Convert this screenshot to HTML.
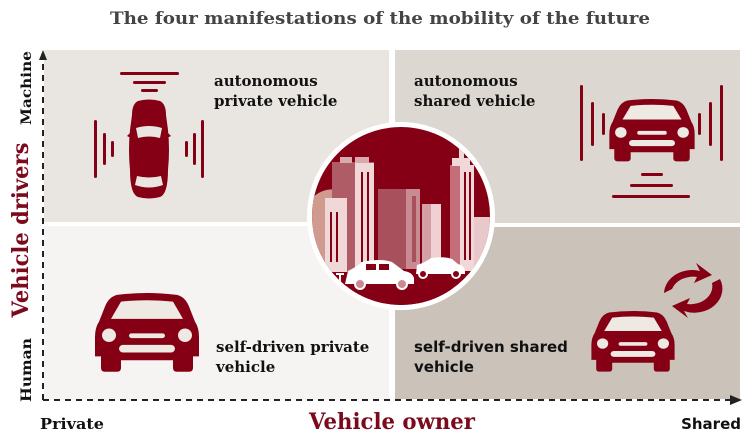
<!DOCTYPE html>
<html><head><meta charset="utf-8"><style>
html,body{margin:0;padding:0;background:#fff;width:752px;height:440px;overflow:hidden}
svg{display:block}
.s{font-family:"DejaVu Serif","Liberation Serif",serif;font-weight:bold}
.a{font-family:"DejaVu Sans","Liberation Sans",sans-serif}
</style></head><body>
<svg width="752" height="440" viewBox="0 0 752 440" xmlns="http://www.w3.org/2000/svg">
<defs>
<g id="front">
<path d="M20,2 Q50,-2 80,2 Q88,4 92,14 L98,30 Q102,36 102,46 L102,66 L96,66 L96,78 Q96,82 92,82 L80,82 Q76,82 76,78 L76,70 L24,70 L24,78 Q24,82 20,82 L8,82 Q4,82 4,78 L4,66 L-2,66 L-2,46 Q-2,36 2,30 L8,14 Q12,4 20,2 Z" fill="#850014"/>
<path d="M24,9 Q50,6 76,9 L86,27 L14,27 Z" fill="#efe9e4"/>
<circle cx="12" cy="44" r="7" fill="#efe9e4"/>
<circle cx="88" cy="44" r="7" fill="#efe9e4"/>
<rect x="32" y="42" width="36" height="5" rx="2.5" fill="#efe9e4"/>
<rect x="22" y="54" width="56" height="8" rx="4" fill="#efe9e4"/>
</g>
</defs>
<text x="380" y="24" text-anchor="middle" class="s" font-size="17" fill="#444" textLength="540" lengthAdjust="spacingAndGlyphs">The four manifestations of the mobility of the future</text>
<rect x="44" y="50" width="345" height="172" fill="#e9e6e1"/>
<rect x="395" y="50" width="345" height="173" fill="#dcd7d1"/>
<rect x="44" y="226" width="345" height="174" fill="#f5f4f2"/>
<rect x="395" y="227" width="345" height="172" fill="#cbc3b9"/>
<line x1="43" y1="400" x2="43" y2="56" stroke="#222" stroke-width="2" stroke-dasharray="6,5"/>
<path d="M43,50 L39,60 L47,60 Z" fill="#222"/>
<line x1="43" y1="400" x2="734" y2="400" stroke="#222" stroke-width="2" stroke-dasharray="6,5"/>
<path d="M742,400 L730,395 L730,405 Z" fill="#222"/>
<text transform="translate(31,88) rotate(-90)" text-anchor="middle" class="s" font-size="14" fill="#111" textLength="74" lengthAdjust="spacingAndGlyphs">Machine</text>
<text transform="translate(31,370) rotate(-90)" text-anchor="middle" class="s" font-size="14" fill="#111" textLength="64" lengthAdjust="spacingAndGlyphs">Human</text>
<text transform="translate(28,230) rotate(-90)" text-anchor="middle" class="s" font-size="22" fill="#7a0a1c" textLength="175" lengthAdjust="spacingAndGlyphs">Vehicle drivers</text>
<text x="40" y="429" class="s" font-size="15" fill="#111" textLength="64" lengthAdjust="spacingAndGlyphs">Private</text>
<text x="392" y="429" text-anchor="middle" class="s" font-size="22" fill="#7a0a1c" textLength="166" lengthAdjust="spacingAndGlyphs">Vehicle owner</text>
<text x="741" y="429" text-anchor="end" class="a" font-weight="bold" font-size="15" fill="#111">Shared</text>
<text class="s" font-size="15" fill="#111"><tspan x="214" y="86">autonomous</tspan><tspan x="214" y="106">private vehicle</tspan></text>
<text class="s" font-size="15" fill="#111"><tspan x="414" y="86">autonomous</tspan><tspan x="414" y="106">shared vehicle</tspan></text>
<text class="s" font-size="15" fill="#111"><tspan x="216" y="352">self-driven private</tspan><tspan x="216" y="372">vehicle</tspan></text>
<text class="a" font-weight="bold" font-size="15" fill="#111"><tspan x="414" y="352">self-driven shared</tspan><tspan x="414" y="372">vehicle</tspan></text>
<g fill="#850014">
<rect x="120" y="72" width="59" height="3" rx="1.5"/>
<rect x="133" y="81" width="33" height="3" rx="1.5"/>
<rect x="141" y="89" width="17" height="3" rx="1.5"/>
<rect x="94" y="120" width="3" height="58" rx="1.5"/>
<rect x="103" y="133" width="3" height="32" rx="1.5"/>
<rect x="111" y="141" width="3" height="16" rx="1.5"/>
<rect x="201" y="120" width="3" height="58" rx="1.5"/>
<rect x="193" y="133" width="3" height="32" rx="1.5"/>
<rect x="185" y="141" width="3" height="16" rx="1.5"/>
<path d="M138,101 Q149,98 160,101 Q166,104 166,115 L168,130 Q170,150 168,170 Q168,194 160,197 Q149,200 138,197 Q130,194 130,170 Q128,150 130,130 L132,115 Q132,104 138,101 Z"/>
<path d="M127,136 L131,132 L131,138 Z M171,136 L167,132 L167,138 Z"/>
</g>
<path d="M136,128 Q149,124 162,128 L160,138 Q149,135 138,138 Z" fill="#e9e6e1"/>
<path d="M137,176 Q149,179 161,176 L163,185 Q149,190 135,185 Z" fill="#e9e6e1"/>
<g fill="#850014">
<rect x="580" y="85" width="3" height="76" rx="1.5"/>
<rect x="591" y="102" width="3" height="44" rx="1.5"/>
<rect x="602" y="113" width="3" height="22" rx="1.5"/>
<rect x="720" y="85" width="3" height="76" rx="1.5"/>
<rect x="709" y="102" width="3" height="44" rx="1.5"/>
<rect x="698" y="113" width="3" height="22" rx="1.5"/>
<rect x="641" y="173" width="22" height="3" rx="1.5"/>
<rect x="630" y="184" width="43" height="3" rx="1.5"/>
<rect x="612" y="195" width="78" height="3" rx="1.5"/>
</g>
<use href="#front" transform="translate(611,99) scale(0.82,0.76)"/>
<use href="#front" transform="translate(97,293) scale(1.0,0.96)"/>
<use href="#front" transform="translate(593,311) scale(0.8,0.74)"/>
<g fill="#850014">
<path d="M664,293 A28,24 0 0 1 700,271 L696,263 L712,275 L694,283 L697,277 A22,18 0 0 0 672,289 Z"/>
<path d="M720,279 A28,24 0 0 1 684,311 L688,318 L672,306 L690,298 L687,304 A22,18 0 0 0 712,283 Z"/>
</g>
<circle cx="401" cy="216" r="94" fill="#fff"/>
<clipPath id="cc"><circle cx="401" cy="216" r="89"/></clipPath>
<circle cx="401" cy="216" r="89" fill="#850014"/>
<g clip-path="url(#cc)">
<path d="M310,200 Q325,184 345,192 L345,270 L310,270 Z" fill="#d19a8f"/>
<rect x="332" y="162" width="42" height="110" fill="#b05c66"/>
<rect x="340" y="157" width="12" height="6" fill="#d9a9ad"/>
<rect x="355" y="157" width="14" height="6" fill="#d9a9ad"/>
<rect x="355" y="163" width="19" height="110" fill="#f0d8d8"/>
<rect x="378" y="189" width="40" height="80" fill="#a8505c"/>
<rect x="406" y="189" width="14" height="80" fill="#c98b92"/>
<rect x="412" y="196" width="4" height="66" fill="#a8505c"/>
<rect x="422" y="204" width="16" height="66" fill="#d4a0a6"/>
<rect x="431" y="204" width="10" height="66" fill="#f0d0d3"/>
<rect x="450" y="165" width="22" height="106" fill="#c56d78"/>
<rect x="460" y="165" width="14" height="106" fill="#f0d8d8"/>
<rect x="452" y="158" width="18" height="8" fill="#f0d8d8"/>
<rect x="459" y="146" width="5" height="14" fill="#f0d8d8"/>
<rect x="474" y="217" width="16" height="54" fill="#e8c8cb"/>
<rect x="325" y="198" width="22" height="76" fill="#f0d8d8"/>
<g fill="#850014">
<rect x="330" y="212" width="2" height="50"/><rect x="336" y="212" width="2" height="50"/>
<rect x="361" y="172" width="2" height="90"/><rect x="367" y="172" width="2" height="90"/>
<rect x="464" y="172" width="2" height="88"/><rect x="469" y="172" width="2" height="88"/>
</g>
<rect x="300" y="272" width="200" height="40" fill="#850014"/>
<path d="M345,284 L348,271 Q358,266 362,262 Q380,258 392,262 L404,271 Q412,272 414,278 L414,284 Z" fill="#fff"/>
<rect x="366" y="264" width="10" height="6" fill="#850014"/><rect x="379" y="264" width="10" height="6" fill="#850014"/>
<circle cx="360" cy="284" r="6" fill="#fff"/><circle cx="360" cy="284" r="4" fill="#c98b92"/>
<circle cx="402" cy="284" r="6" fill="#fff"/><circle cx="402" cy="284" r="4" fill="#c98b92"/>
<path d="M416,274 L417,265 Q426,262 431,258 Q445,256 452,259 L458,264 Q465,266 465,272 L465,274 Z" fill="#fff"/>
<circle cx="423" cy="274" r="5" fill="#fff"/><circle cx="423" cy="274" r="3" fill="#850014"/>
<circle cx="456" cy="274" r="5" fill="#fff"/><circle cx="456" cy="274" r="3" fill="#850014"/>
<path d="M336,274 L344,274 M340,274 L340,283 Q340,288 345,286" stroke="#fff" stroke-width="2" fill="none"/>
</g>
</svg>
</body></html>
